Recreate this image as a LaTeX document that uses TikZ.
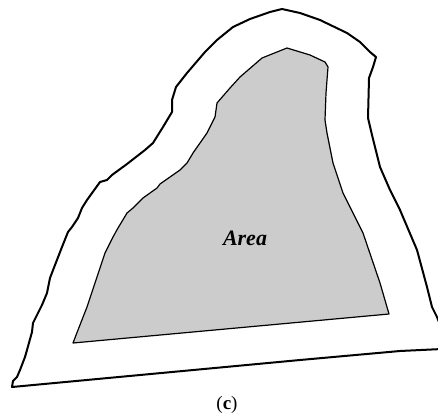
\documentclass[tikz,border=0pt]{standalone}
\usepackage{fontspec}
\setmainfont{Liberation Serif}
\begin{document}
\begin{tikzpicture}[x=1pt,y=-1pt]
\useasboundingbox (0,0) rectangle (438,417);
\clip (0,0) rectangle (438,417);
\draw[line width=2pt,line join=round] (12,387)--(13,381)--(17,377)--(20,370)--(25,357)--(27,350)--(32,332)--(33,323)--(42,305)--(47,293)--(50,278)--(55,265)--(62,247)--(68,232)--(72,227)--(78,218)--(82,208)--(87,200)--(100,182)--(107,180)--(112,175)--(127,164)--(145,150)--(153,143)--(163,127)--(172,112)--(172,100)--(176,87)--(187,73)--(205,52)--(217,40)--(233,27)--(250,19)--(270,12)--(282,9)--(300,13)--(320,20)--(347,33)--(360,42)--(370,52)--(376,57)--(373,67)--(369,78)--(368,118)--(372,135)--(380,167)--(390,190)--(400,210)--(417,250)--(427,287)--(432,307)--(437,317)--(442,330)--(442,349)--(400,351)--(300,360)--cycle;
\draw[fill=black!20,line width=1.2pt,line join=round] (73,343)--(78,330)--(87,307)--(97,277)--(105,253)--(113,237)--(118,228)--(127,213)--(133,208)--(143,198)--(157,188)--(160,184)--(180,170)--(187,163)--(193,153)--(207,133)--(215,117)--(217,103)--(230,88)--(240,77)--(262,58)--(277,52)--(287,48)--(310,55)--(325,62)--(328,67)--(326,93)--(325,120)--(327,133)--(333,163)--(343,193)--(363,233)--(380,283)--(389,314)--cycle;
\node[font=\fontsize{22}{26}\selectfont\bfseries\itshape] (area) at (245,238){Area};
\node[font=\fontsize{19}{22}\selectfont] (label) at (227,405){(\textbf{c})};
\end{tikzpicture}
\end{document}
